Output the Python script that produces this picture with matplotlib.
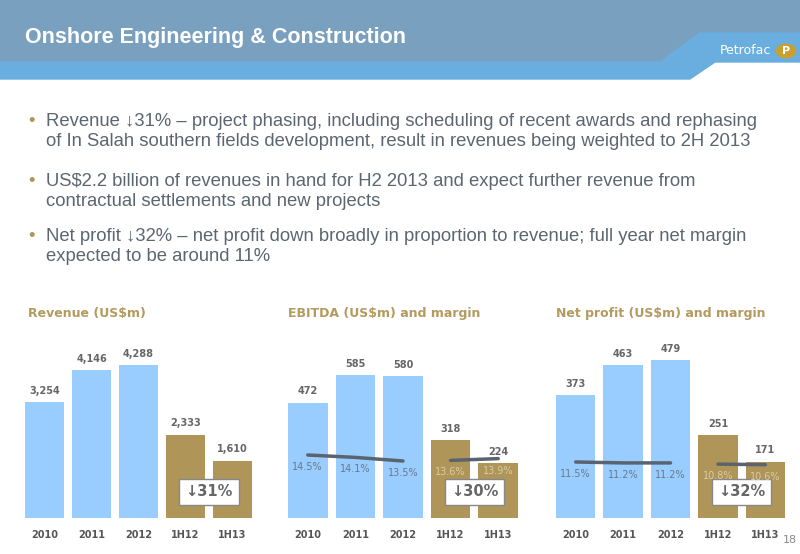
import matplotlib
matplotlib.use("Agg")
import matplotlib.pyplot as plt
from matplotlib.patches import Polygon, Rectangle

W, H = 800, 554
categories = ["2010", "2011", "2012", "1H12", "1H13"]
revenue = [3254, 4146, 4288, 2333, 1610]
revenue_labels = ["3,254", "4,146", "4,288", "2,333", "1,610"]
ebitda = [472, 585, 580, 318, 224]
ebitda_margin = [14.5, 14.1, 13.5, 13.6, 13.9]
net = [373, 463, 479, 251, 171]
net_margin = [11.5, 11.2, 11.2, 10.8, 10.6]
changes = ["↓31%", "↓30%", "↓32%"]
titles = ["Revenue (US$m)", "EBITDA (US$m) and margin", "Net profit (US$m) and margin"]
bullets = [
    "Revenue ↓31% – project phasing, including scheduling of recent awards and rephasing\nof In Salah southern fields development, result in revenues being weighted to 2H 2013",
    "US$2.2 billion of revenues in hand for H2 2013 and expect further revenue from\ncontractual settlements and new projects",
    "Net profit ↓32% – net profit down broadly in proportion to revenue; full year net margin\nexpected to be around 11%",
]

BLUE, GOLD = "#99ccff", "#b09558"
TXT = "#5c6670"

fig = plt.figure(figsize=(8, 5.54), dpi=100)
fig.patch.set_facecolor("white")

def fx(x): return x / W
def fy(y): return 1 - y / H

# header
fig.patches.append(Polygon([(0, 1), (1, 1), (1, fy(33)), (fx(700), fy(33)), (fx(660), fy(62)), (0, fy(62))],
                           closed=True, transform=fig.transFigure, color="#7aa0c0", zorder=0))
fig.patches.append(Polygon([(0, fy(62)), (fx(660), fy(62)), (fx(700), fy(33)), (1, fy(33)), (1, fy(62)),
                            (fx(715), fy(62)), (fx(690), fy(79)), (0, fy(79))],
                           closed=True, transform=fig.transFigure, color="#6aaee0", zorder=0))
fig.text(fx(25), fy(38), "Onshore Engineering & Construction", color="white", fontsize=15.5,
         fontweight="bold", va="center", family="Liberation Sans")
fig.text(fx(771), fy(51), "Petrofac", color="white", fontsize=9, va="center", ha="right")
fig.patches.append(plt.Circle((fx(786), fy(51)), 0.012, transform=fig.transFigure, color="#c8a030"))
fig.text(fx(786), fy(51), "P", color="white", fontsize=8, fontweight="bold", ha="center", va="center")

# bullets
ys = [113, 173, 228]
for y, b in zip(ys, bullets):
    fig.text(fx(28), fy(y), "•", color=GOLD, fontsize=13.3, va="top", family="Liberation Sans")
    fig.text(fx(46), fy(y), b, color=TXT, fontsize=13.3, va="top", linespacing=1.22, family="Liberation Sans")

panels = [
    (revenue, revenue_labels, None, 25, 252, 4288 / 153 * 200, None),
    (ebitda, [str(v) for v in ebitda], ebitda_margin, 288, 518, 585 / 143 * 200, (14.5 - 63 / 6, 14.5 - 63 / 6 + 200 / 6)),
    (net, [str(v) for v in net], net_margin, 556, 785, 479 / 158 * 200, (11.5 - 56 / 3, 11.5 - 56 / 3 + 200 / 3)),
]
title_x = [28, 288, 556]
for i, (vals, labs, marg, x0, x1, ytop, mlim) in enumerate(panels):
    ax = fig.add_axes([fx(x0), fy(518), fx(x1 - x0), 200 / H])
    x = list(range(5))
    cols = [BLUE] * 3 + [GOLD] * 2
    ax.bar(x, vals, width=0.83, color=cols)
    ax.set_xlim(-0.415, 4.415)
    ax.set_ylim(0, ytop)
    ax.axis("off")
    for xi, v, l in zip(x, vals, labs):
        ax.annotate(l, (xi, v), xytext=(0, 6), textcoords="offset points", ha="center",
                    fontsize=7, fontweight="bold", color="#666666")
    for xi, c in zip(x, categories):
        ax.text(xi, -0.06, c, transform=ax.get_xaxis_transform(), ha="center", va="top",
                fontsize=7, fontweight="bold", color="#555555")
    ax.text(3.5, 0.13, changes[i], transform=ax.get_xaxis_transform(), ha="center", va="center",
            fontsize=10.5, fontweight="bold", color="#666666",
            bbox=dict(boxstyle="square,pad=0.4", fc="white", ec="#888888", lw=1))
    if marg:
        ax2 = ax.twinx()
        ax2.set_ylim(*mlim)
        ax2.axis("off")
        ax2.plot(x[:3], marg[:3], color="#5a6470", lw=2.5, solid_capstyle="round")
        ax2.plot(x[3:], marg[3:], color="#5a6470", lw=2.5, solid_capstyle="round")
        for xi, m in zip(x, marg):
            ax2.annotate(f"{m}%", (xi, m), xytext=(0, -5), textcoords="offset points", ha="center",
                         va="top", fontsize=7, color="#6a7a8a" if xi < 3 else "#d8cca0")
    fig.text(fx(title_x[i]), fy(313), titles[i], color="#b39a5e", fontsize=9, fontweight="bold", va="center")

fig.text(fx(797), fy(540), "18", color="#888888", fontsize=8, ha="right", va="center")
fig.savefig("out.png", dpi=100)
